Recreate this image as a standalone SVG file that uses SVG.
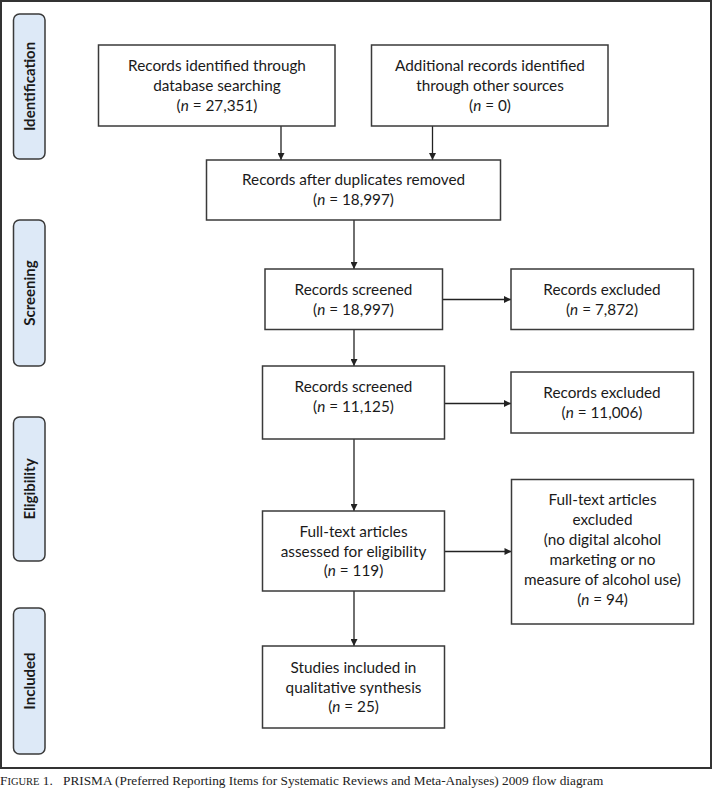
<svg xmlns="http://www.w3.org/2000/svg" width="713" height="794" viewBox="0 0 713 794">
<style>
.frame{fill:#fff;stroke:#333;stroke-width:2}
.box{fill:#fff;stroke:#3a3a3a;stroke-width:1.5}
.phase{fill:#dde9f7;stroke:#3a3a3a;stroke-width:1.5}
.t{font-family:Lato,"Liberation Sans",sans-serif;font-size:15.3px;fill:#1a1a1a;text-anchor:middle}
.pt{font-family:Lato,"Liberation Sans",sans-serif;font-size:15px;font-weight:bold;fill:#1a1a1a;text-anchor:middle}
.cap{font-family:"Liberation Serif",serif;font-size:13.3px;fill:#222}
.c{stroke:#222;stroke-width:1.3;fill:none;marker-end:url(#ah)}
</style>
<defs>
<marker id="ah" viewBox="0 0 10 10" refX="10" refY="5" markerWidth="8" markerHeight="7" markerUnits="userSpaceOnUse" orient="auto">
<path d="M0,0 L10,5 L0,10 z" fill="#222"/>
</marker>
</defs>
<rect x="0" y="0" width="713" height="794" fill="#fff"/>
<rect class="frame" x="1" y="1" width="710" height="767"/>

<g id="phase-identification">
<rect class="phase" x="13.5" y="14" width="31.5" height="145" rx="6"/>
<text class="pt" transform="translate(34.5,86.5) rotate(-90)">Identification</text>
</g>
<g id="phase-screening">
<rect class="phase" x="13.5" y="220" width="31.5" height="146" rx="6"/>
<text class="pt" transform="translate(34.5,293) rotate(-90)">Screening</text>
</g>
<g id="phase-eligibility">
<rect class="phase" x="13.5" y="417" width="31.5" height="144" rx="6"/>
<text class="pt" transform="translate(34.5,489) rotate(-90)">Eligibility</text>
</g>
<g id="phase-included">
<rect class="phase" x="13.5" y="608" width="31.5" height="146" rx="6"/>
<text class="pt" transform="translate(34.5,681) rotate(-90)">Included</text>
</g>

<g id="connectors">
<line class="c" x1="281" y1="126" x2="281" y2="160"/>
<line class="c" x1="432.5" y1="126" x2="432.5" y2="160"/>
<line class="c" x1="354" y1="220" x2="354" y2="269"/>
<line class="c" x1="442.5" y1="299.5" x2="511" y2="299.5"/>
<line class="c" x1="354" y1="329.5" x2="354" y2="366"/>
<line class="c" x1="444.5" y1="403.5" x2="511" y2="403.5"/>
<line class="c" x1="354" y1="439" x2="354" y2="511"/>
<line class="c" x1="444.5" y1="551.5" x2="511.5" y2="551.5"/>
<line class="c" x1="354" y1="591" x2="354" y2="646"/>
</g>

<g id="n-db">
<rect class="box" x="98.5" y="45" width="236.5" height="81"/>
<text class="t" x="217" y="71">Records identified through</text>
<text class="t" x="217" y="91">database searching</text>
<text class="t" x="217" y="111">(<tspan font-style="italic">n</tspan> = 27,351)</text>
</g>
<g id="n-other">
<rect class="box" x="371.5" y="45" width="236.5" height="81"/>
<text class="t" x="490" y="71">Additional records identified</text>
<text class="t" x="490" y="91">through other sources</text>
<text class="t" x="490" y="111">(<tspan font-style="italic">n</tspan> = 0)</text>
</g>
<g id="n-dedup">
<rect class="box" x="206.5" y="160" width="294" height="60"/>
<text class="t" x="353.5" y="185">Records after duplicates removed</text>
<text class="t" x="353.5" y="205">(<tspan font-style="italic">n</tspan> = 18,997)</text>
</g>
<g id="n-screened1">
<rect class="box" x="265" y="269" width="177.5" height="60.5"/>
<text class="t" x="353.5" y="294.5">Records screened</text>
<text class="t" x="353.5" y="314.5">(<tspan font-style="italic">n</tspan> = 18,997)</text>
</g>
<g id="n-excluded1">
<rect class="box" x="511" y="269" width="182.5" height="60.5"/>
<text class="t" x="602" y="294.5">Records excluded</text>
<text class="t" x="602" y="314.5">(<tspan font-style="italic">n</tspan> = 7,872)</text>
</g>
<g id="n-screened2">
<rect class="box" x="262.5" y="366" width="182" height="73"/>
<text class="t" x="353.5" y="392">Records screened</text>
<text class="t" x="353.5" y="412">(<tspan font-style="italic">n</tspan> = 11,125)</text>
</g>
<g id="n-excluded2">
<rect class="box" x="511" y="372" width="182.5" height="61"/>
<text class="t" x="602" y="398">Records excluded</text>
<text class="t" x="602" y="418">(<tspan font-style="italic">n</tspan> = 11,006)</text>
</g>
<g id="n-fulltext">
<rect class="box" x="262.5" y="511" width="182" height="80"/>
<text class="t" x="353.5" y="537">Full-text articles</text>
<text class="t" x="353.5" y="556.5">assessed for eligibility</text>
<text class="t" x="353.5" y="576">(<tspan font-style="italic">n</tspan> = 119)</text>
</g>
<g id="n-ftexcluded">
<rect class="box" x="511.5" y="479.5" width="182" height="144.5"/>
<text class="t" x="602.5" y="505">Full-text articles</text>
<text class="t" x="602.5" y="525">excluded</text>
<text class="t" x="602.5" y="545">(no digital alcohol</text>
<text class="t" x="602.5" y="565">marketing or no</text>
<text class="t" x="602.5" y="585">measure of alcohol use)</text>
<text class="t" x="602.5" y="605">(<tspan font-style="italic">n</tspan> = 94)</text>
</g>
<g id="n-included">
<rect class="box" x="262.5" y="646" width="182" height="82"/>
<text class="t" x="353.5" y="673">Studies included in</text>
<text class="t" x="353.5" y="692.5">qualitative synthesis</text>
<text class="t" x="353.5" y="712">(<tspan font-style="italic">n</tspan> = 25)</text>
</g>

<text class="cap" x="0" y="785">F<tspan font-size="10.5">IGURE</tspan> 1.</text>
<text class="cap" x="63" y="785">PRISMA (Preferred Reporting Items for Systematic Reviews and Meta-Analyses) 2009 flow diagram</text>
</svg>
